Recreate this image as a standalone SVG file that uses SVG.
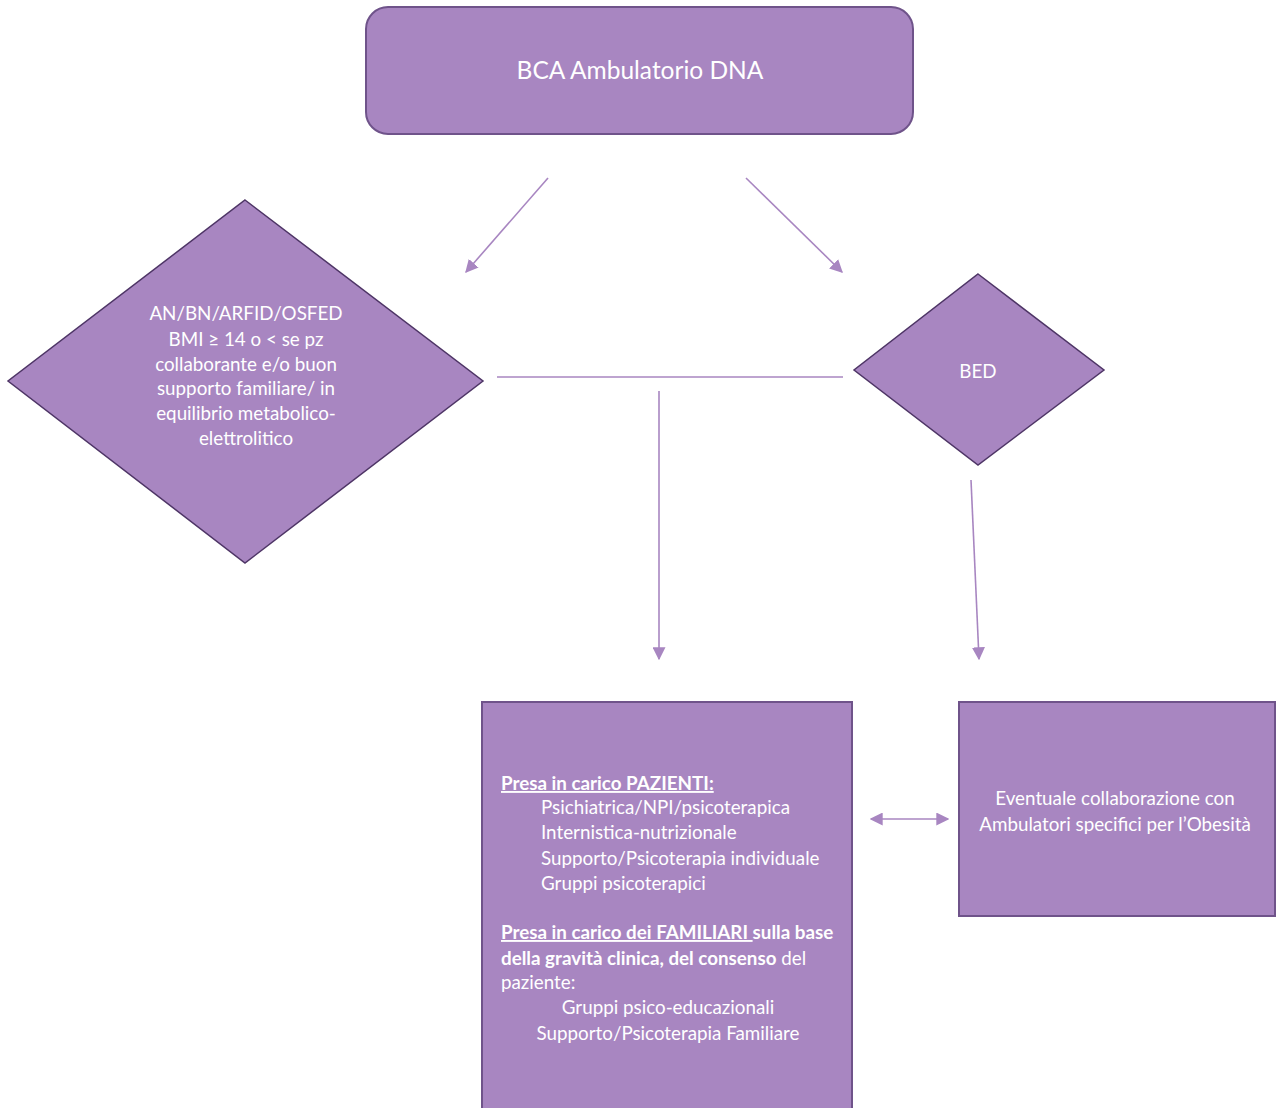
<svg xmlns="http://www.w3.org/2000/svg" width="1276" height="1108" viewBox="0 0 1276 1108">
<defs>
<style>
.node{fill:#a886c1;stroke:#6f538a;stroke-width:2}
.dia{fill:#a886c1;stroke:#4e3566;stroke-width:1.5}
.t{font-family:Lato,"Liberation Sans",sans-serif;fill:#ffffff;font-size:18.8px}
.c{text-anchor:middle}
.b{font-weight:bold}
.u{text-decoration:underline}
.conn{stroke:#a886c1;stroke-width:1.6;fill:none}
</style>
<marker id="ah2" viewBox="0 0 10 10" refX="9" refY="5" markerWidth="13" markerHeight="13" markerUnits="userSpaceOnUse" orient="auto-start-reverse">
<path d="M0,0 L10,5 L0,10 z" fill="#a886c1"/>
</marker>
</defs>
<rect width="1276" height="1108" fill="#ffffff"/>
<g id="connectors">
<line class="conn" x1="548" y1="178" x2="466" y2="272" marker-end="url(#ah2)"/>
<line class="conn" x1="746" y1="178" x2="842" y2="272" marker-end="url(#ah2)"/>
<line class="conn" x1="497" y1="377" x2="843" y2="377"/>
<line class="conn" x1="659" y1="391" x2="659" y2="659" marker-end="url(#ah2)"/>
<line class="conn" x1="971" y1="480" x2="979" y2="659" marker-end="url(#ah2)"/>
<line class="conn" x1="871" y1="819" x2="948" y2="819" marker-start="url(#ah2)" marker-end="url(#ah2)"/>
</g>
<g id="n-top">
<rect class="node" x="366" y="7" width="547" height="127" rx="22"/>
<text class="t c" x="640" y="79" style="font-size:24.5px">BCA Ambulatorio DNA</text>
</g>
<g id="n-left">
<polygon class="dia" points="245,200 483,381 245,563 8,381"/>
<text class="t c" x="246" y="320">AN/BN/ARFID/OSFED</text>
<text class="t c" x="246" y="346">BMI ≥ 14 o &lt; se pz</text>
<text class="t c" x="246" y="371">collaborante e/o buon</text>
<text class="t c" x="246" y="395">supporto familiare/ in</text>
<text class="t c" x="246" y="420">equilibrio metabolico-</text>
<text class="t c" x="246" y="445">elettrolitico</text>
</g>
<g id="n-bed">
<polygon class="dia" points="978,274 1104,370 978,465 854,370"/>
<text class="t c" x="978" y="378">BED</text>
</g>
<g id="n-presa">
<rect class="node" x="482" y="702" width="370" height="420"/>
<text class="t b u" x="501" y="790">Presa in carico PAZIENTI:</text>
<text class="t" x="541" y="814">Psichiatrica/NPI/psicoterapica</text>
<text class="t" x="541" y="839">Internistica-nutrizionale</text>
<text class="t" x="541" y="865">Supporto/Psicoterapia individuale</text>
<text class="t" x="541" y="890">Gruppi psicoterapici</text>
<text class="t" x="501" y="939"><tspan class="b u">Presa in carico dei FAMILIARI </tspan><tspan class="b">sulla base</tspan></text>
<text class="t" x="501" y="965"><tspan class="b">della gravità clinica, del consenso</tspan> del</text>
<text class="t" x="501" y="989">paziente:</text>
<text class="t c" x="668" y="1014">Gruppi psico-educazionali</text>
<text class="t c" x="668" y="1040">Supporto/Psicoterapia Familiare</text>
</g>
<g id="n-obesita">
<rect class="node" x="959" y="702" width="316" height="214"/>
<text class="t c" x="1115" y="805">Eventuale collaborazione con</text>
<text class="t c" x="1115" y="831">Ambulatori specifici per l’Obesità</text>
</g>
</svg>
